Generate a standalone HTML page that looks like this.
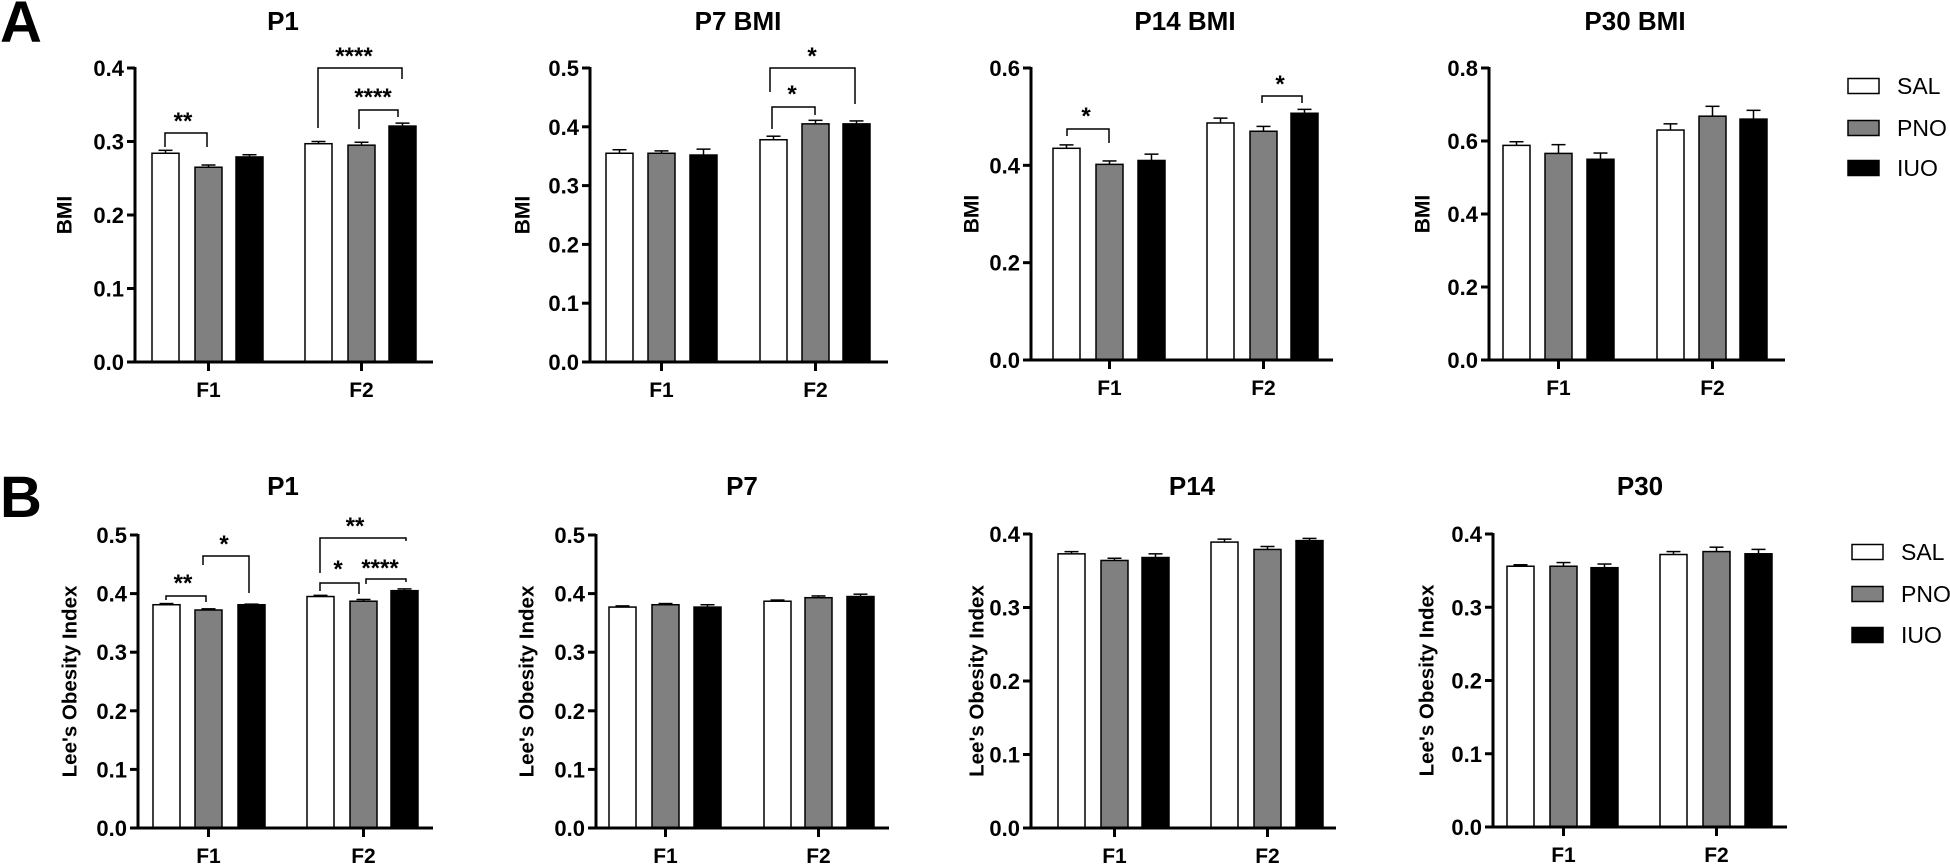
<!DOCTYPE html>
<html><head><meta charset="utf-8"><style>
html,body{margin:0;padding:0;background:#fff;width:1950px;height:866px;overflow:hidden}
svg text{font-family:"Liberation Sans",Arial,sans-serif}
</style></head><body>
<svg id="s" width="1950" height="866" viewBox="0 0 1950 866" xmlns="http://www.w3.org/2000/svg">
<text x="0" y="42" font-size="58" font-weight="bold">A</text>
<text x="0" y="517" font-size="58" font-weight="bold">B</text>
</svg>
<script>
var s=document.getElementById('s');var NS='http://www.w3.org/2000/svg';
function el(t,a,txt){var e=document.createElementNS(NS,t);for(var k in a)e.setAttribute(k,a[k]);if(txt!==undefined)e.textContent=txt;s.appendChild(e);return e;}
var cols=['#fff','#808080','#000'];
var panels=[
{ax:135,top:68,base:362,max:0.4,step:0.1,bars:[152,195,236,305,348,389],v:[[.284,.004],[.265,.003],[.279,.003],[.297,.003],[.295,.004],[.321,.004]],title:'P1',tx:283,ty:30,lab:'BMI',lx:65,end:433},
{ax:590,top:68,base:362,max:0.5,step:0.1,bars:[606,648,690,760,802,843],v:[[.355,.006],[.355,.004],[.352,.01],[.378,.006],[.405,.006],[.405,.005]],title:'P7 BMI',tx:738,ty:30,lab:'BMI',lx:523,end:888},
{ax:1031,top:68,base:360,max:0.6,step:0.2,bars:[1053,1096,1138,1207,1250,1291],v:[[.435,.007],[.402,.007],[.41,.013],[.487,.01],[.47,.01],[.507,.008]],title:'P14 BMI',tx:1185,ty:30,lab:'BMI',lx:972,end:1333},
{ax:1489,top:68,base:360,max:0.8,step:0.2,bars:[1503,1545,1587,1657,1699,1740],v:[[.588,.01],[.566,.024],[.55,.017],[.63,.017],[.668,.027],[.66,.024]],title:'P30 BMI',tx:1635,ty:30,lab:'BMI',lx:1423,end:1785},
{ax:138,top:535,base:828,max:0.5,step:0.1,bars:[153,195,238,307,350,391],v:[[.381,.002],[.372,.002],[.381,.001],[.395,.002],[.387,.003],[.405,.003]],title:'P1',tx:283,ty:495,lab:"Lee's Obesity Index",lx:70,end:433},
{ax:596,top:535,base:828,max:0.5,step:0.1,bars:[609,652,694,764,805,847],v:[[.377,.002],[.381,.002],[.377,.004],[.387,.002],[.393,.003],[.395,.004]],title:'P7',tx:742,ty:495,lab:"Lee's Obesity Index",lx:527,end:889},
{ax:1031,top:534,base:828,max:0.4,step:0.1,bars:[1058,1101,1142,1211,1254,1296],v:[[.373,.003],[.364,.003],[.368,.005],[.389,.004],[.379,.004],[.391,.003]],title:'P14',tx:1192,ty:495,lab:"Lee's Obesity Index",lx:977,end:1336},
{ax:1493,top:534,base:827,max:0.4,step:0.1,bars:[1507,1550,1591,1660,1703,1745],v:[[.356,.002],[.356,.005],[.354,.005],[.372,.004],[.376,.006],[.373,.006]],title:'P30',tx:1640,ty:495,lab:"Lee's Obesity Index",lx:1427,end:1787}
];
panels.forEach(function(p){
 var sc=(p.base-p.top)/p.max;
 el('text',{x:p.tx,y:p.ty,'font-size':26,'font-weight':'bold','text-anchor':'middle'},p.title);
 var cy=(p.top+p.base)/2;
 el('text',{x:p.lx,y:cy,'font-size':p.lab=='BMI'?21:20.5,'font-weight':'bold','text-anchor':'middle',transform:'rotate(-90 '+p.lx+' '+cy+')','dominant-baseline':'central'},p.lab);
 for(var i=0;i<6;i++){var b=p.bars[i],h=p.v[i][0]*sc,y=p.base-h,e=p.v[i][1]*sc,c=b+13.5;
  el('line',{x1:c,x2:c,y1:y,y2:y-e,stroke:'#000','stroke-width':1.5});
  el('line',{x1:c-7,x2:c+7,y1:y-e,y2:y-e,stroke:'#000','stroke-width':1.5});
  el('rect',{x:b,y:y,width:27,height:h,fill:cols[i%3],stroke:'#000','stroke-width':1.5});}
 el('line',{x1:p.ax,x2:p.ax,y1:p.top-1,y2:p.base+1.5,stroke:'#000','stroke-width':3});
 el('line',{x1:p.ax-8,x2:p.end,y1:p.base,y2:p.base,stroke:'#000','stroke-width':3});
 var n=Math.round(p.max/p.step);
 for(var k=0;k<=n;k++){var v=k*p.step,ty=p.base-v*sc;
  el('line',{x1:p.ax-8,x2:p.ax,y1:ty,y2:ty,stroke:'#000','stroke-width':3});
  el('text',{x:p.ax-11,y:ty+8,'font-size':22,'font-weight':'bold','text-anchor':'end'},v.toFixed(1));}
 [p.bars[1]+13.5,p.bars[4]+13.5].forEach(function(fx,j){
  el('line',{x1:fx,x2:fx,y1:p.base,y2:p.base+9,stroke:'#000','stroke-width':3});
  el('text',{x:fx,y:p.base+35,'font-size':21,'font-weight':'bold','text-anchor':'middle'},j?'F2':'F1');});
});
function br(x1,x2,top,l,r,t,tx,ty){
 el('polyline',{points:x1+','+l+' '+x1+','+top+' '+x2+','+top+' '+x2+','+r,fill:'none',stroke:'#000','stroke-width':1.5});
 el('text',{x:tx,y:ty+12,'font-size':24,'font-weight':'bold','text-anchor':'middle'},t);}
br(165,207,133,147,147,'**',183,117);
br(318,402,68,128,79,'****',354,52);
br(359,398,110,129,117,'****',373,93);
br(770,855,68,92,104,'*',812,52);
br(772,815,107,129,115,'*',792,90);
br(1067,1109,129,136,143,'*',1086,112);
br(1262,1302,96,103,103,'*',1280,80);
br(166,206,596,600,602,'**',183,579);
br(203,249,556,565,593,'*',224,540);
br(320,406,538,573,541,'**',355,522);
br(320,359,583,591,594,'*',338,565);
br(366,406,579,584,582,'****',380,564);
function leg(x,tx,ys){['SAL','PNO','IUO'].forEach(function(t,i){
 el('rect',{x:x,y:ys[i]-7.5,width:31,height:15,fill:cols[i],stroke:'#000','stroke-width':1.5});
 el('text',{x:tx,y:ys[i]+8,'font-size':23},t);});}
leg(1848,1897,[86,128,168]);
leg(1852,1901,[552,594,635]);
</script>
</body></html>
